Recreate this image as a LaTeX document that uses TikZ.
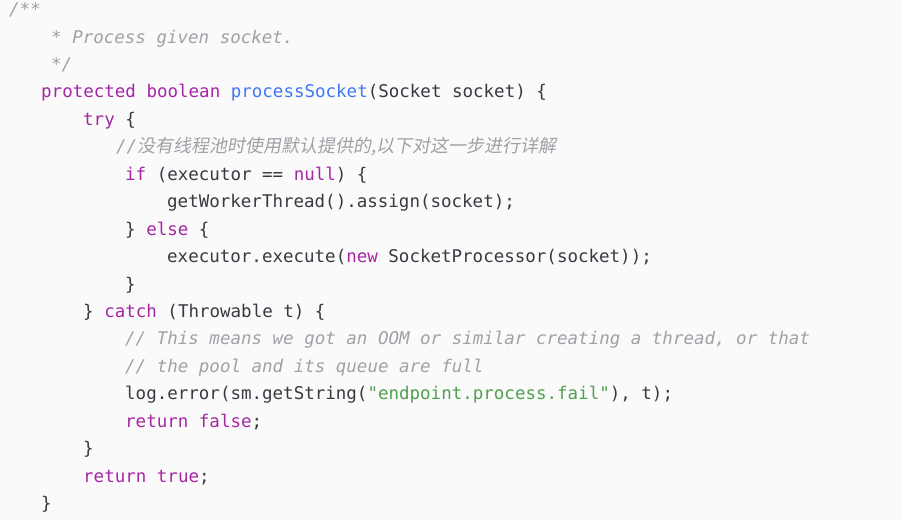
\documentclass[tikz,border=0pt]{standalone}
\usepackage{fontspec}
\usepackage{xcolor}
\usetikzlibrary{positioning}

\newfontfamily\codefont{DejaVu Sans Mono}
\newfontfamily\cjkfont[FakeSlant=0.18]{Noto Sans CJK SC}

\definecolor{codebg}{HTML}{FAFAFA}
\definecolor{codetext}{HTML}{383A42}
\definecolor{codekw}{HTML}{A626A4}
\definecolor{codefn}{HTML}{4078F2}
\definecolor{codestr}{HTML}{50A14F}
\definecolor{codecm}{HTML}{A0A1A7}

\newcommand{\kwd}[1]{\textcolor{codekw}{#1}}
\newcommand{\fnm}[1]{\textcolor{codefn}{#1}}
\newcommand{\strg}[1]{\textcolor{codestr}{#1}}
\newcommand{\cmt}[1]{\textcolor{codecm}{\itshape #1}}
\newcommand{\zh}[1]{{\cjkfont\fontsize{18pt}{18pt}\selectfont #1}}

\tikzset{
  codeline/.style={anchor=base west, inner sep=0pt, text=codetext,
    font=\codefont\fontsize{17.5pt}{20pt}\selectfont},
}

\begin{document}
\begin{tikzpicture}[x=1pt,y=-1pt]
\useasboundingbox[fill=codebg] (0,0) rectangle (902,520);

% comment block
\node[codeline] (l1) at (9,15.5) {\cmt{/**}};
\node[codeline] (l2) at (51,43) {\cmt{* Process given socket.}};
\node[codeline] (l3) at (51,70.4) {\cmt{*/}};

% method
\node[codeline] (l4) at (41,97.9) {\kwd{protected} \kwd{boolean} \fnm{processSocket}(Socket socket) \{};
\node[codeline] (l5) at (83,125.3) {\kwd{try} \{};
\node[codeline] (l6) at (116,152.8) {\cmt{//\zh{没有线程池时使用默认提供的,以下对这一步进行详解}}};
\node[codeline] (l7) at (125,180.2) {\kwd{if} (executor == \kwd{null}) \{};
\node[codeline] (l8) at (167,207.7) {getWorkerThread().assign(socket);};
\node[codeline] (l9) at (125,235.1) {\} \kwd{else} \{};
\node[codeline] (l10) at (167,262.6) {executor.execute(\kwd{new} SocketProcessor(socket));};
\node[codeline] (l11) at (125,290) {\}};
\node[codeline] (l12) at (83,317.5) {\} \kwd{catch} (Throwable t) \{};
\node[codeline] (l13) at (125,344.9) {\cmt{// This means we got an OOM or similar creating a thread, or that}};
\node[codeline] (l14) at (125,372.4) {\cmt{// the pool and its queue are full}};
\node[codeline] (l15) at (125,399.8) {log.error(sm.getString(\strg{"endpoint.process.fail"}), t);};
\node[codeline] (l16) at (125,427.3) {\kwd{return} \kwd{false};};
\node[codeline] (l17) at (83,454.7) {\}};
\node[codeline] (l18) at (83,482.2) {\kwd{return} \kwd{true};};
\node[codeline] (l19) at (41,509.6) {\}};
\end{tikzpicture}
\end{document}
